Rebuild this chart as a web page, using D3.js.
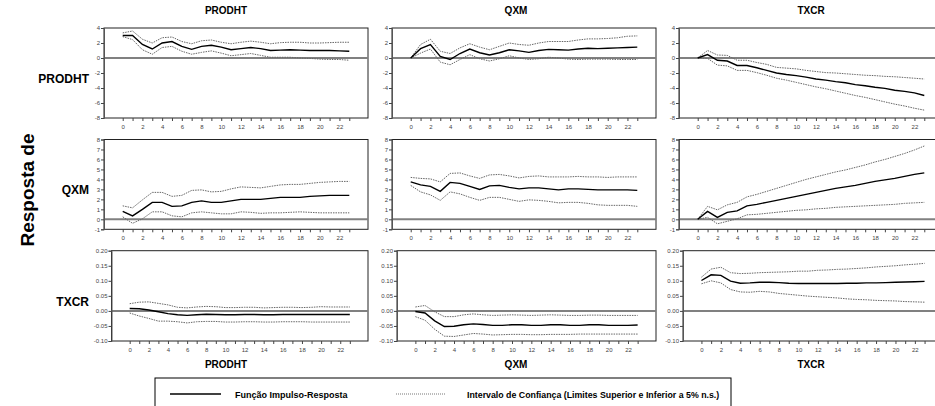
<!DOCTYPE html>
<html>
<head>
<meta charset="utf-8">
<script src="https://cdn.jsdelivr.net/npm/d3@7"></script>
<style>
  body { margin: 0; background: #fff; }
  svg { display: block; font-family: "Liberation Sans", Arial, sans-serif; }
</style>
</head>
<body>
<div id="chart"></div>
<script>
// variables (rows = response, cols = impulse)
var variables = ["PRODHT", "QXM", "TXCR"];
var periods = [0,1,2,3,4,5,6,7,8,9,10,11,12,13,14,15,16,17,18,19,20,21,22,23];

// y tick values per row
var yTicksRow1 = [-8, -6, -4, -2, 0, 2, 4];
var yTicksRow2 = [-1, 0, 1, 2, 3, 4, 5, 6, 7, 8];
var yTicksRow3 = [-0.10, -0.05, 0.00, 0.05, 0.10, 0.15, 0.20];

// response of PRODHT
var prodht_prodht = [3.0,3.0,1.8,1.2,2.0,2.2,1.55,1.15,1.55,1.7,1.45,1.1,1.25,1.4,1.25,1.0,1.05,1.1,1.05,1.0,1.0,1.0,0.95,0.9];
var prodht_prodht_up = [3.35,3.6,2.5,2.0,2.7,2.8,2.2,1.9,2.3,2.4,2.1,1.9,2.1,2.25,2.1,1.9,2.05,2.1,2.1,2.0,2.0,2.05,2.1,2.1];
var prodht_prodht_lo = [2.85,2.45,1.1,0.5,1.4,1.55,0.9,0.5,0.75,0.95,0.65,0.3,0.45,0.6,0.35,0.1,0.1,0.1,0.0,-0.05,-0.15,-0.2,-0.2,-0.3];

var prodht_qxm = [0,1.25,1.8,0.2,-0.2,0.6,1.2,0.7,0.4,0.7,1.1,0.95,0.75,1.0,1.15,1.1,1.05,1.2,1.3,1.25,1.3,1.35,1.4,1.45];
var prodht_qxm_up = [0,1.8,2.5,0.9,0.6,1.35,1.9,1.45,1.1,1.55,2.0,1.8,1.7,2.0,2.2,2.2,2.2,2.4,2.55,2.55,2.6,2.7,2.9,2.95];
var prodht_qxm_lo = [0,0.65,1.2,-0.55,-0.9,-0.2,0.45,-0.1,-0.4,-0.1,0.3,0.0,-0.2,-0.1,0.1,0.0,-0.15,-0.2,-0.15,-0.15,-0.15,-0.2,-0.2,-0.2];

var prodht_txcr = [0,0.45,-0.3,-0.4,-1.0,-1.0,-1.3,-1.65,-2.0,-2.2,-2.35,-2.55,-2.8,-2.95,-3.15,-3.3,-3.55,-3.7,-3.9,-4.05,-4.3,-4.45,-4.65,-5.0];
var prodht_txcr_up = [0,1.0,0.4,0.35,-0.3,-0.3,-0.6,-0.85,-1.25,-1.35,-1.45,-1.65,-1.8,-1.95,-2.0,-2.1,-2.2,-2.3,-2.35,-2.45,-2.5,-2.6,-2.7,-2.8];
var prodht_txcr_lo = [0,-0.05,-0.95,-1.05,-1.65,-1.65,-1.95,-2.3,-2.7,-2.95,-3.25,-3.55,-3.85,-4.1,-4.4,-4.7,-5.0,-5.25,-5.55,-5.85,-6.15,-6.4,-6.7,-6.95];

// response of QXM
var qxm_prodht = [0.8,0.35,1.0,1.7,1.7,1.3,1.35,1.7,1.85,1.7,1.7,1.85,2.0,2.0,2.0,2.1,2.2,2.2,2.2,2.3,2.35,2.4,2.4,2.4];
var qxm_prodht_up = [1.35,1.15,1.95,2.7,2.7,2.3,2.4,2.9,2.95,2.75,2.8,3.05,3.25,3.2,3.15,3.3,3.45,3.5,3.5,3.6,3.7,3.75,3.8,3.8];
var qxm_prodht_lo = [0.25,-0.4,0.05,0.75,0.75,0.35,0.25,0.65,0.75,0.65,0.55,0.55,0.75,0.7,0.6,0.65,0.65,0.7,0.75,0.7,0.65,0.65,0.65,0.65];

var qxm_qxm = [3.75,3.45,3.3,2.8,3.7,3.6,3.3,3.0,3.35,3.4,3.2,3.05,3.15,3.15,3.05,2.95,3.05,3.05,3.0,2.95,2.95,2.95,2.95,2.9];
var qxm_qxm_up = [4.2,4.1,4.05,3.75,4.6,4.65,4.35,4.1,4.45,4.5,4.35,4.15,4.3,4.35,4.25,4.25,4.25,4.3,4.25,4.25,4.2,4.25,4.25,4.25];
var qxm_qxm_lo = [3.4,2.75,2.45,1.9,2.75,2.55,2.2,1.9,2.2,2.2,2.0,1.8,1.95,1.9,1.8,1.65,1.7,1.7,1.6,1.45,1.4,1.4,1.4,1.3];

var qxm_txcr = [0,0.8,0.2,0.7,0.85,1.35,1.5,1.7,1.9,2.1,2.3,2.5,2.7,2.9,3.1,3.25,3.4,3.6,3.8,3.95,4.1,4.3,4.5,4.65];
var qxm_txcr_up = [0,1.3,0.95,1.45,1.7,2.25,2.5,2.8,3.1,3.4,3.7,4.0,4.25,4.5,4.75,4.95,5.2,5.45,5.75,6.0,6.3,6.6,6.95,7.35];
var qxm_txcr_lo = [0,0.2,-0.45,-0.2,0.05,0.45,0.5,0.6,0.7,0.8,0.9,0.95,1.05,1.1,1.2,1.25,1.3,1.35,1.4,1.45,1.5,1.6,1.65,1.7];

// response of TXCR
var txcr_prodht = [0.008,0.007,0.003,-0.003,-0.009,-0.013,-0.015,-0.013,-0.011,-0.012,-0.013,-0.013,-0.012,-0.012,-0.013,-0.013,-0.012,-0.012,-0.012,-0.012,-0.012,-0.012,-0.012,-0.012];
var txcr_prodht_up = [0.024,0.029,0.030,0.025,0.020,0.012,0.010,0.013,0.015,0.014,0.011,0.011,0.012,0.012,0.010,0.011,0.012,0.012,0.011,0.012,0.014,0.013,0.013,0.013];
var txcr_prodht_lo = [-0.007,-0.017,-0.025,-0.034,-0.034,-0.036,-0.040,-0.036,-0.035,-0.035,-0.037,-0.037,-0.036,-0.036,-0.037,-0.037,-0.036,-0.036,-0.036,-0.037,-0.037,-0.037,-0.037,-0.037];

var txcr_qxm = [-0.002,-0.007,-0.033,-0.052,-0.051,-0.046,-0.043,-0.045,-0.048,-0.048,-0.046,-0.046,-0.048,-0.048,-0.046,-0.046,-0.048,-0.048,-0.046,-0.046,-0.048,-0.048,-0.048,-0.047];
var txcr_qxm_up = [0.013,0.018,-0.003,-0.019,-0.019,-0.013,-0.010,-0.013,-0.015,-0.014,-0.013,-0.014,-0.015,-0.014,-0.013,-0.014,-0.015,-0.015,-0.014,-0.014,-0.015,-0.015,-0.015,-0.015];
var txcr_qxm_lo = [-0.019,-0.031,-0.061,-0.084,-0.085,-0.080,-0.075,-0.077,-0.080,-0.079,-0.078,-0.078,-0.079,-0.079,-0.078,-0.078,-0.078,-0.077,-0.077,-0.077,-0.077,-0.077,-0.077,-0.077];

var txcr_txcr = [0.101,0.120,0.118,0.099,0.092,0.093,0.095,0.095,0.094,0.092,0.091,0.091,0.091,0.091,0.091,0.092,0.092,0.093,0.093,0.094,0.095,0.096,0.097,0.098];
var txcr_txcr_up = [0.112,0.139,0.145,0.127,0.124,0.125,0.127,0.128,0.129,0.130,0.132,0.132,0.135,0.136,0.138,0.139,0.141,0.143,0.146,0.148,0.150,0.153,0.155,0.158];
var txcr_txcr_lo = [0.090,0.100,0.093,0.071,0.063,0.062,0.065,0.063,0.058,0.055,0.052,0.049,0.047,0.045,0.043,0.040,0.038,0.037,0.035,0.034,0.033,0.031,0.030,0.029];

var legendLabels = ["Função Impulso-Resposta", "Intervalo de Confiança (Limites Superior e Inferior a 5% n.s.)"];

// ---------- layout ----------
var svg_Width = 935, svg_Height = 406;
var colRight = [368, 656, 943];
var colLeft = [[104, 392, 679], [104, 392, 679], [111.5, 397, 683]];
var rowTop = [28, 139.5, 250.7];
var rowBottom = [118, 229.3, 341];
var colTitleX = [226, 516, 811];

var series = [
  [[prodht_prodht, prodht_prodht_up, prodht_prodht_lo], [prodht_qxm, prodht_qxm_up, prodht_qxm_lo], [prodht_txcr, prodht_txcr_up, prodht_txcr_lo]],
  [[qxm_prodht, qxm_prodht_up, qxm_prodht_lo], [qxm_qxm, qxm_qxm_up, qxm_qxm_lo], [qxm_txcr, qxm_txcr_up, qxm_txcr_lo]],
  [[txcr_prodht, txcr_prodht_up, txcr_prodht_lo], [txcr_qxm, txcr_qxm_up, txcr_qxm_lo], [txcr_txcr, txcr_txcr_up, txcr_txcr_lo]]
];
var yTicks = [yTicksRow1, yTicksRow2, yTicksRow3];

var loc = d3.formatLocale({decimal: ".", thousands: ",", grouping: [3], currency: ["", ""], minus: "-"});
var yFormats = [loc.format("d"), loc.format("d"), loc.format(".2f")];

var svg = d3.select("#chart").append("svg")
  .attr("width", svg_Width)
  .attr("height", svg_Height);

// column titles (top and bottom) and row labels
variables.forEach(function(v, c) {
  svg.append("text").attr("x", colTitleX[c]).attr("y", 14)
    .attr("text-anchor", "middle").attr("font-size", 10).attr("font-weight", "bold")
    .text(v);
  svg.append("text").attr("x", colTitleX[c]).attr("y", 368)
    .attr("text-anchor", "middle").attr("font-size", 10).attr("font-weight", "bold")
    .text(v);
  svg.append("text").attr("x", 89).attr("y", (rowTop[c] + rowBottom[c]) / 2 + 10)
    .attr("text-anchor", "end").attr("font-size", 12).attr("font-weight", "bold")
    .text(v);
});

svg.append("text")
  .attr("transform", "translate(34,190) rotate(-90)")
  .attr("text-anchor", "middle").attr("font-size", 19).attr("font-weight", "bold")
  .text("Resposta de");

function drawPanel(r, c) {
  var pLeft = colLeft[r][c], pRight = colRight[c];
  var pTop = rowTop[r], pBottom = rowBottom[r];
  var xScale = d3.scaleLinear().domain([-1.9, 24.9]).range([pLeft, pRight]);
  var yt = yTicks[r];
  var yScale = d3.scaleLinear().domain([yt[0], yt[yt.length - 1]]).range([pBottom, pTop]);

  var g = svg.append("g");

  // frame
  g.append("rect")
    .attr("x", pLeft).attr("y", pTop)
    .attr("width", pRight - pLeft).attr("height", pBottom - pTop)
    .attr("fill", "none").attr("stroke", "#222").attr("stroke-width", 1);

  // zero line
  g.append("line")
    .attr("x1", pLeft).attr("x2", pRight)
    .attr("y1", yScale(0)).attr("y2", yScale(0))
    .attr("stroke", "#808080").attr("stroke-width", 2);

  var xAxis = d3.axisBottom(xScale).tickValues(periods).tickSize(3)
    .tickFormat(function(d) { return d % 2 === 0 ? d : ""; });
  var xg = g.append("g").attr("transform", "translate(0," + pBottom + ")").call(xAxis);
  xg.select(".domain").remove();
  xg.selectAll(".tick line").attr("stroke", "#444");
  xg.selectAll(".tick text").attr("font-size", 6).attr("fill", "#444").attr("dy", "0.75em");

  var yAxis = d3.axisLeft(yScale).tickValues(yt).tickSize(3).tickFormat(yFormats[r]);
  var yg = g.append("g").attr("transform", "translate(" + pLeft + ",0)").call(yAxis);
  yg.select(".domain").attr("stroke", "#555");
  yg.selectAll(".tick line").attr("stroke", "#444");
  yg.selectAll(".tick text").attr("font-size", 6).attr("fill", "#444").attr("x", -4);

  var s = series[r][c];
  var line = d3.line()
    .x(function(d, i) { return xScale(periods[i]); })
    .y(function(d) { return yScale(d); });

  g.append("path").datum(s[1]).attr("d", line)
    .attr("fill", "none").attr("stroke", "#666").attr("stroke-width", 1)
    .attr("stroke-dasharray", "1.5,1");
  g.append("path").datum(s[2]).attr("d", line)
    .attr("fill", "none").attr("stroke", "#666").attr("stroke-width", 1)
    .attr("stroke-dasharray", "1.5,1");
  g.append("path").datum(s[0]).attr("d", line)
    .attr("fill", "none").attr("stroke", "#000").attr("stroke-width", 1.4);
}

for (var r = 0; r < 3; r++) {
  for (var c = 0; c < 3; c++) {
    drawPanel(r, c);
  }
}

// legend
var lg = svg.append("g");
lg.append("rect").attr("x", 155).attr("y", 378).attr("width", 576).attr("height", 40)
  .attr("fill", "none").attr("stroke", "#000").attr("stroke-width", 1);
lg.append("line").attr("x1", 170).attr("x2", 221).attr("y1", 394).attr("y2", 394)
  .attr("stroke", "#000").attr("stroke-width", 1.4);
lg.append("text").attr("x", 235).attr("y", 398).attr("font-size", 9).attr("font-weight", "bold")
  .text(legendLabels[0]);
lg.append("line").attr("x1", 396).attr("x2", 446).attr("y1", 394).attr("y2", 394)
  .attr("stroke", "#777").attr("stroke-width", 1).attr("stroke-dasharray", "1,1");
lg.append("text").attr("x", 467).attr("y", 398).attr("font-size", 8.8).attr("font-weight", "bold")
  .text(legendLabels[1]);
</script>
</body>
</html>
